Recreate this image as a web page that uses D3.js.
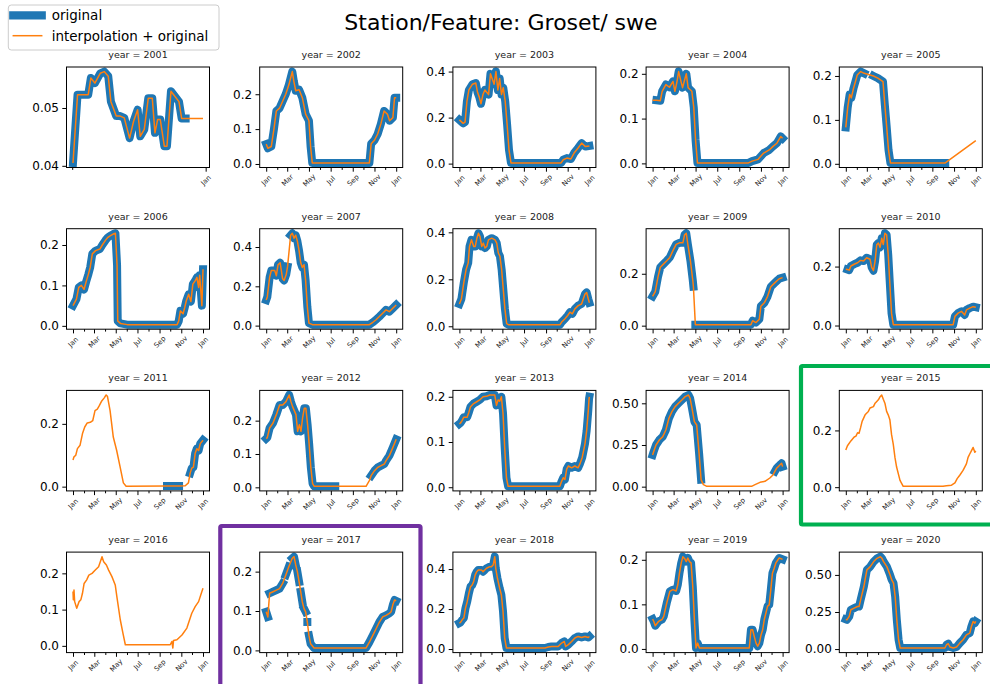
<!DOCTYPE html>
<html>
<head>
<meta charset="utf-8">
<script src="https://cdn.jsdelivr.net/npm/d3@7"></script>
<style>
  body { margin: 0; background: #fff; }
  svg { display: block; font-family: "DejaVu Sans", sans-serif; }
</style>
</head>
<body>
<div class="container"></div>
<script>
// x values are month floats inside the year (0 = Jan 1, 12 = Jan 1 of next year)
const years = [2001, 2002, 2003, 2004, 2005, 2006, 2007, 2008, 2009, 2010,
  2011, 2012, 2013, 2014, 2015, 2016, 2017, 2018, 2019, 2020];

const swe2001 = [[11.006,0.0405],[11.04,0.0523],[11.12,0.0523],[11.14,0.0552],[11.17,0.0543],[11.21,0.056],[11.24,0.0563],[11.27,0.0555],[11.29,0.0511],[11.33,0.0486],[11.36,0.0486],[11.39,0.0483],[11.43,0.0448],[11.46,0.0477],[11.49,0.0497],[11.51,0.0451],[11.54,0.0463],[11.57,0.0517],[11.6,0.0517],[11.62,0.0457],[11.64,0.048],[11.66,0.048],[11.69,0.0434],[11.71,0.0434],[11.74,0.0529],[11.76,0.0523],[11.8,0.0511],[11.82,0.0482],[11.85,0.0482],[11.98,0.0482]];
const swe2002 = [[0,0.057],[0.15,0.045],[0.46,0.05],[0.7,0.1],[0.92,0.152],[1.23,0.16],[1.54,0.18],[1.85,0.2],[2.15,0.227],[2.46,0.265],[2.6,0.237],[2.77,0.21],[3.08,0.213],[3.38,0.19],[3.69,0.143],[4.0,0.124],[4.15,0.05],[4.3,0.003],[9.54,0.003],[9.7,0.058],[10.0,0.068],[10.3,0.086],[10.6,0.115],[10.9,0.152],[11.2,0.143],[11.4,0.124],[11.7,0.133],[11.85,0.19],[12,0.19]];
const swe2003 = [[0,0.19],[0.34,0.175],[0.51,0.18],[0.68,0.27],[0.86,0.32],[1.2,0.345],[1.54,0.35],[1.71,0.31],[1.88,0.29],[2.05,0.26],[2.23,0.3],[2.4,0.32],[2.74,0.3],[2.91,0.39],[3.25,0.345],[3.42,0.4],[3.6,0.32],[3.77,0.37],[3.94,0.3],[4.1,0.33],[4.28,0.27],[4.45,0.17],[4.62,0.06],[4.8,0.003],[9.4,0.003],[9.6,0.017],[9.93,0.024],[10.3,0.02],[10.6,0.046],[10.96,0.067],[11.3,0.089],[11.64,0.074],[12,0.077]];
const swe2004 = [[0,0.141],[0.35,0.141],[0.7,0.14],[0.87,0.161],[1.22,0.176],[1.57,0.17],[1.91,0.183],[2.09,0.161],[2.26,0.18],[2.43,0.205],[2.78,0.169],[3.13,0.2],[3.3,0.169],[3.65,0.161],[3.83,0.125],[4.0,0.052],[4.17,0.001],[8.87,0.001],[9.2,0.005],[9.74,0.009],[10.26,0.023],[10.78,0.03],[11.13,0.038],[11.48,0.045],[11.83,0.06],[12,0.056]];
const swe2005 = [[0,0.083],[0.17,0.128],[0.35,0.158],[0.5,0.15],[0.7,0.172],[0.87,0.187],[1.04,0.202],[1.39,0.21],[1.74,0.206],[2.6,0.2],[3.0,0.195],[3.48,0.187],[3.65,0.135],[3.83,0.083],[4.0,0.031],[4.17,0.002],[9.2,0.002],[12,0.053]];
const swe2006 = [[0,0.05],[0.31,0.066],[0.52,0.095],[0.76,0.1],[1.0,0.09],[1.22,0.11],[1.44,0.128],[1.62,0.145],[1.83,0.178],[2.14,0.186],[2.53,0.19],[2.75,0.2],[3.05,0.212],[3.27,0.219],[3.51,0.223],[3.76,0.227],[3.97,0.229],[4.12,0.15],[4.18,0.012],[4.43,0.006],[5.04,0.003],[9.62,0.003],[9.77,0.012],[9.92,0.037],[10.17,0.03],[10.32,0.045],[10.47,0.062],[10.69,0.078],[10.9,0.06],[11.08,0.103],[11.3,0.112],[11.45,0.12],[11.6,0.095],[11.7,0.125],[11.9,0.05],[12,0.14]];
const swe2007 = [[0,0.13],[0.1,0.146],[0.31,0.246],[0.46,0.28],[0.77,0.28],[0.92,0.254],[1.08,0.31],[1.29,0.32],[1.54,0.238],[1.69,0.23],[1.9,0.26],[2.03,0.3],[2.31,0.46],[2.46,0.47],[2.62,0.445],[2.77,0.46],[2.92,0.43],[3.08,0.38],[3.23,0.32],[3.38,0.296],[3.54,0.31],[3.69,0.23],[3.85,0.096],[4.0,0.013],[4.31,0.005],[9.54,0.005],[9.85,0.017],[10.15,0.03],[10.46,0.046],[10.77,0.063],[11.08,0.08],[11.38,0.071],[11.69,0.088],[12,0.105]];
const swe2008 = [[0,0.095],[0.18,0.116],[0.4,0.186],[0.61,0.242],[0.8,0.27],[0.92,0.34],[1.1,0.368],[1.32,0.34],[1.47,0.34],[1.63,0.375],[1.78,0.396],[1.93,0.382],[2.09,0.34],[2.24,0.354],[2.39,0.333],[2.55,0.34],[2.7,0.368],[3.0,0.375],[3.31,0.368],[3.47,0.354],[3.62,0.312],[3.77,0.298],[3.93,0.242],[4.08,0.158],[4.23,0.074],[4.39,0.011],[4.54,0.007],[9.3,0.007],[9.45,0.018],[9.75,0.032],[10.0,0.046],[10.21,0.06],[10.43,0.053],[10.67,0.074],[10.98,0.088],[11.29,0.095],[11.6,0.137],[11.75,0.144],[11.9,0.116],[12,0.1]];
const swe2009 = [[0,0.113],[0.24,0.131],[0.49,0.188],[0.7,0.225],[1.0,0.238],[1.31,0.25],[1.62,0.263],[1.92,0.288],[2.23,0.313],[2.53,0.319],[2.84,0.319],[2.99,0.35],[3.15,0.356],[3.3,0.313],[3.54,0.25],[3.76,0.175],[3.82,0.15],[4.0,0.004],[9.1,0.004],[9.25,0.019],[9.56,0.012],[9.86,0.025],[10.0,0.075],[10.32,0.088],[10.63,0.113],[10.93,0.15],[11.24,0.163],[11.54,0.175],[11.7,0.181],[12,0.185]];
const swe2010 = [[0,0.191],[0.15,0.19],[0.31,0.188],[0.46,0.202],[0.76,0.208],[1.07,0.213],[1.37,0.221],[1.68,0.219],[1.98,0.23],[2.29,0.225],[2.44,0.197],[2.6,0.186],[2.75,0.219],[2.9,0.274],[3.05,0.28],[3.21,0.265],[3.36,0.296],[3.51,0.275],[3.66,0.313],[3.82,0.308],[3.97,0.241],[4.12,0.141],[4.27,0.042],[4.43,0.003],[9.92,0.003],[10.08,0.031],[10.38,0.042],[10.69,0.048],[10.99,0.036],[11.15,0.053],[11.45,0.059],[11.76,0.064],[12,0.062]];
const swe2011 = [[0,0.085],[0.09,0.095],[0.25,0.1],[0.4,0.121],[0.64,0.132],[0.86,0.169],[1.07,0.19],[1.32,0.203],[1.63,0.205],[1.87,0.21],[2.09,0.242],[2.3,0.247],[2.48,0.258],[2.7,0.273],[2.91,0.282],[3.1,0.292],[3.22,0.288],[3.47,0.242],[3.77,0.158],[4.08,0.116],[4.39,0.064],[4.69,0.012],[4.94,0.001],[8.7,0.002],[9.8,0.002],[10.37,0.003],[10.67,0.012],[10.83,0.043],[10.98,0.059],[11.13,0.062],[11.29,0.106],[11.44,0.121],[11.6,0.115],[11.75,0.137],[12,0.148]];
const swe2012 = [[0,0.146],[0.1,0.149],[0.31,0.178],[0.62,0.193],[0.92,0.218],[1.23,0.247],[1.54,0.247],[1.85,0.257],[2.15,0.277],[2.31,0.257],[2.46,0.242],[2.77,0.218],[2.92,0.168],[3.08,0.188],[3.23,0.168],[3.38,0.208],[3.54,0.237],[3.69,0.237],[3.85,0.188],[4.0,0.129],[4.15,0.06],[4.31,0.011],[4.46,0.003],[6.4,0.003],[9.23,0.003],[9.54,0.021],[9.69,0.035],[10.0,0.05],[10.31,0.06],[10.62,0.065],[10.92,0.07],[11.08,0.08],[11.38,0.095],[11.69,0.119],[12,0.144]];
const swe2013 = [[0,0.14],[0.1,0.142],[0.25,0.148],[0.4,0.155],[0.7,0.155],[0.86,0.166],[1.01,0.178],[1.32,0.185],[1.63,0.189],[1.93,0.193],[2.24,0.2],[2.55,0.201],[2.85,0.204],[3.31,0.204],[3.47,0.181],[3.62,0.193],[3.77,0.19],[3.93,0.2],[4.08,0.163],[4.23,0.088],[4.39,0.021],[4.54,0.002],[9.29,0.002],[9.45,0.013],[9.6,0.021],[9.75,0.017],[9.91,0.04],[10.06,0.047],[10.37,0.043],[10.67,0.047],[10.98,0.043],[11.13,0.051],[11.35,0.066],[11.6,0.096],[11.75,0.125],[11.9,0.17],[11.97,0.196],[12,0.2]];
const swe2014 = [[0,0.19],[0.1,0.211],[0.31,0.25],[0.61,0.28],[0.92,0.3],[1.22,0.34],[1.53,0.41],[1.83,0.45],[2.14,0.48],[2.44,0.5],[2.75,0.52],[3.05,0.54],[3.36,0.55],[3.51,0.53],[3.66,0.48],[3.91,0.39],[4.12,0.37],[4.34,0.2],[4.52,0.042],[4.73,0.012],[5.04,0.002],[9.16,0.002],[9.47,0.012],[9.92,0.026],[10.38,0.032],[10.84,0.052],[11.15,0.072],[11.3,0.092],[11.45,0.11],[11.6,0.12],[11.75,0.13],[11.91,0.14],[12,0.12]];
const swe2015 = [[0,0.131],[0.15,0.146],[0.46,0.163],[0.76,0.177],[0.92,0.18],[1.07,0.192],[1.22,0.19],[1.37,0.209],[1.53,0.232],[1.83,0.255],[2.14,0.267],[2.29,0.279],[2.6,0.284],[2.75,0.296],[3.05,0.308],[3.21,0.319],[3.36,0.325],[3.51,0.31],[3.66,0.296],[3.82,0.267],[3.97,0.255],[4.12,0.238],[4.27,0.186],[4.43,0.151],[4.58,0.105],[4.73,0.071],[5.04,0.024],[5.34,0.003],[9.0,0.003],[9.31,0.005],[9.77,0.007],[10.08,0.015],[10.29,0.03],[10.53,0.042],[10.84,0.059],[11.15,0.082],[11.3,0.105],[11.45,0.117],[11.6,0.128],[11.76,0.14],[11.91,0.123],[12,0.128]];
const swe2016 = [[0,0.15],[0.03,0.127],[0.09,0.154],[0.15,0.122],[0.34,0.104],[0.55,0.122],[0.71,0.127],[0.86,0.145],[1.01,0.172],[1.26,0.182],[1.47,0.195],[1.78,0.2],[2.09,0.209],[2.39,0.218],[2.7,0.246],[2.85,0.232],[3.1,0.223],[3.31,0.209],[3.62,0.191],[3.93,0.168],[4.08,0.136],[4.39,0.072],[4.63,0.035],[4.85,0.003],[8.99,0.003],[9.14,0.012],[9.23,-0.006],[9.29,0.015],[9.6,0.017],[10.06,0.03],[10.52,0.049],[10.98,0.09],[11.29,0.108],[11.6,0.122],[11.9,0.15],[12,0.159]];
const swe2017 = [[0,0.098],[0.15,0.085],[0.31,0.145],[0.62,0.149],[0.92,0.153],[1.23,0.157],[1.54,0.17],[1.85,0.191],[2.15,0.213],[2.46,0.234],[2.62,0.238],[2.77,0.217],[2.92,0.2],[3.08,0.174],[3.23,0.149],[3.38,0.123],[3.54,0.106],[3.69,0.098],[3.85,0.072],[4.0,0.038],[4.15,0.017],[4.46,0.006],[5.1,0.006],[5.4,0.006],[6.5,0.006],[6.8,0.006],[8.0,0.006],[8.3,0.006],[9.23,0.006],[9.54,0.021],[9.85,0.038],[10.15,0.055],[10.46,0.072],[10.77,0.085],[11.08,0.089],[11.38,0.094],[11.54,0.098],[11.69,0.115],[11.85,0.128],[12,0.126]];
const swe2018 = [[0,0.13],[0.1,0.133],[0.25,0.146],[0.4,0.155],[0.55,0.204],[0.71,0.238],[0.86,0.279],[1.01,0.312],[1.17,0.32],[1.32,0.337],[1.47,0.37],[1.63,0.387],[1.78,0.395],[2.09,0.395],[2.24,0.387],[2.39,0.395],[2.55,0.404],[2.85,0.412],[3.0,0.412],[3.16,0.42],[3.31,0.462],[3.4,0.404],[3.56,0.354],[3.77,0.304],[3.93,0.27],[4.08,0.188],[4.23,0.055],[4.39,0.005],[7.91,0.005],[8.22,0.01],[8.53,0.013],[9.14,0.013],[9.45,0.03],[9.69,0.038],[9.82,0.013],[10.06,0.022],[10.37,0.038],[10.67,0.055],[10.98,0.063],[11.29,0.058],[11.6,0.063],[11.9,0.058],[12,0.063]];
const swe2019 = [[0,0.067],[0.1,0.062],[0.24,0.052],[0.55,0.062],[0.85,0.066],[1.01,0.073],[1.31,0.103],[1.62,0.129],[1.92,0.133],[2.23,0.13],[2.38,0.144],[2.53,0.17],[2.69,0.193],[2.84,0.207],[2.99,0.203],[3.15,0.196],[3.3,0.204],[3.45,0.196],[3.6,0.193],[3.76,0.14],[3.91,0.066],[4.06,0.002],[4.21,0.013],[4.37,0.002],[8.95,0.002],[9.1,0.043],[9.25,0.043],[9.4,0.028],[9.56,0.013],[9.71,0.006],[9.86,0.013],[10.02,0.032],[10.17,0.043],[10.32,0.066],[10.63,0.096],[10.78,0.099],[10.93,0.133],[11.08,0.17],[11.24,0.181],[11.39,0.193],[11.69,0.204],[12,0.201]];
const swe2020 = [[0,0.2],[0.1,0.197],[0.31,0.22],[0.46,0.265],[0.76,0.276],[1.07,0.287],[1.22,0.287],[1.37,0.332],[1.68,0.42],[1.83,0.478],[1.98,0.534],[2.29,0.556],[2.6,0.59],[2.9,0.612],[3.21,0.623],[3.36,0.612],[3.51,0.59],[3.82,0.556],[4.12,0.5],[4.27,0.466],[4.43,0.444],[4.58,0.354],[4.73,0.197],[4.89,0.063],[5.04,0.007],[9.16,0.007],[9.31,0.029],[9.47,0.036],[9.62,0.014],[9.92,0.007],[10.23,0.014],[10.53,0.04],[10.84,0.063],[11.15,0.096],[11.45,0.108],[11.6,0.152],[11.76,0.186],[11.91,0.175],[12,0.186]];

const sweData = [swe2001, swe2002, swe2003, swe2004, swe2005, swe2006, swe2007,
  swe2008, swe2009, swe2010, swe2011, swe2012, swe2013, swe2014, swe2015,
  swe2016, swe2017, swe2018, swe2019, swe2020];

// spans (month floats) where the original series has no value
const missing = [
  [[11.85, 12]], [], [], [[0, 0.35]], [[1.74, 2.6], [9.2, 12]],
  [], [[2.05, 2.28]], [], [[3.83, 3.99]], [[0, 0.12]],
  [[0, 8.62], [9.88, 10.8]], [[6.45, 9.65]], [], [[4.55, 11.25]], [[0, 12]],
  [[0, 12]], [[0.17, 0.28], [1.6, 1.8], [2.3, 2.4], [2.85, 2.9], [3.1, 3.2], [3.4, 3.5], [3.7, 3.8], [3.9, 3.95], [5.2, 5.3], [6.6, 6.7], [8.1, 8.2]],
  [], [], []
];

const yTicks = [
  [0.04, 0.05], [0, 0.1, 0.2], [0, 0.2, 0.4], [0, 0.1, 0.2], [0, 0.1, 0.2],
  [0, 0.1, 0.2], [0, 0.2, 0.4], [0, 0.2, 0.4], [0, 0.2], [0, 0.2],
  [0, 0.2], [0, 0.1, 0.2], [0, 0.1, 0.2], [0, 0.25, 0.5], [0, 0.2],
  [0, 0.1, 0.2], [0, 0.1, 0.2], [0, 0.2, 0.4], [0, 0.1, 0.2], [0, 0.25, 0.5]
];

const blue = "#1f77b4";
const orange = "#ff7f0e";

const grid = { left: 66.5, top: 67, colStep: 193.2, rowStep: 161.7, w: 143, h: 100.5 };

const toDate = (year, m) => {
  const mi = Math.floor(m);
  const a = Date.UTC(year, mi, 1);
  const b = Date.UTC(year, mi + 1, 1);
  return new Date(a + (m - mi) * (b - a));
};

// decimals needed so that every tick label shows the same precision
const tickDigits = (ticks) =>
  d3.max(ticks, (t) => {
    const s = String(+t.toFixed(6));
    return s.includes(".") ? s.split(".")[1].length : 0;
  });

// original series: drop missing values and break the line at gaps
const originalOf = (data, gaps) => {
  const firstM = data[0][0];
  const lastM = data[data.length - 1][0];
  const isMissing = (m) =>
    gaps.some(([a, b]) => (a < m && m < b) || (m === a && a === firstM) || (m === b && b === lastM));
  const out = [];
  data.forEach((d, k) => {
    if (k > 0) {
      const p = data[k - 1][0];
      if (gaps.some(([a, b]) => a >= p && b <= d[0] && !(a === p && b === d[0] && false))) out.push(null);
    }
    out.push(isMissing(d[0]) ? null : d);
  });
  return out;
};

const svg = d3
  .select(".container")
  .append("svg")
  .attr("width", 990)
  .attr("height", 684);

const defs = svg.append("defs");

// Title
svg
  .append("text")
  .attr("x", 501)
  .attr("y", 30)
  .attr("text-anchor", "middle")
  .attr("font-size", 22)
  .text("Station/Feature: Groset/ swe");

const monthFmt = d3.utcFormat("%b");

years.forEach((year, i) => {
  const data = sweData[i];
  const col = i % 5;
  const row = Math.floor(i / 5);
  const w = grid.w;
  const h = grid.h;

  const g = svg
    .append("g")
    .attr("transform", "translate(" + (grid.left + col * grid.colStep) + "," + (grid.top + row * grid.rowStep) + ")");

  // scales with 5% margins like matplotlib autoscale
  const dates = data.map((d) => toDate(year, d[0]));
  const [d0, d1] = d3.extent(dates);
  const xPad = (d1 - d0) * 0.05;
  const xScale = d3.scaleUtc().domain([new Date(+d0 - xPad), new Date(+d1 + xPad)]).range([0, w]);

  const [v0, v1] = d3.extent(data, (d) => d[1]);
  const yPad = (v1 - v0) * 0.05;
  const yScale = d3.scaleLinear().domain([v0 - yPad, v1 + yPad]).range([h, 0]);

  defs.append("clipPath").attr("id", "ax" + year)
    .append("rect").attr("width", w).attr("height", h);

  const line = d3.line()
    .defined((d) => d !== null)
    .x((d) => xScale(toDate(year, d[0])))
    .y((d) => yScale(d[1]));

  const plot = g.append("g").attr("clip-path", "url(#ax" + year + ")");

  // original (thick blue)
  plot.append("path")
    .attr("d", line(originalOf(data, missing[i])))
    .attr("fill", "none")
    .attr("stroke", blue)
    .attr("stroke-width", 8)
    .attr("stroke-linejoin", "round")
    .attr("stroke-linecap", "square");

  // interpolation + original (thin orange)
  plot.append("path")
    .attr("d", line(data))
    .attr("fill", "none")
    .attr("stroke", orange)
    .attr("stroke-width", 1.5)
    .attr("stroke-linejoin", "round");

  // x axis: major ticks every 2 months, minor every month
  const major = xScale.ticks(d3.utcMonth.every(2));
  const minor = xScale.ticks(d3.utcMonth.every(1)).filter((d) => d.getUTCMonth() % 2 === 1);

  const xMinor = g.append("g")
    .attr("transform", "translate(0," + h + ")")
    .call(d3.axisBottom(xScale).tickValues(minor).tickSize(2.4).tickFormat(""));
  xMinor.select(".domain").remove();

  const xMajor = g.append("g")
    .attr("transform", "translate(0," + h + ")")
    .call(d3.axisBottom(xScale).tickValues(major).tickSize(4.2).tickFormat(monthFmt));
  xMajor.select(".domain").remove();
  xMajor.selectAll("text")
    .attr("y", 0)
    .attr("dy", null)
    .attr("font-size", 7)
    .attr("font-family", "DejaVu Sans")
    .attr("fill", "#222")
    .attr("text-anchor", "middle")
    .attr("dominant-baseline", "central")
    .attr("transform", "translate(0,13) rotate(-45)");

  // y axis
  const ticks = yTicks[i];
  const yAxis = g.append("g")
    .call(d3.axisLeft(yScale).tickValues(ticks).tickSize(4.2).tickPadding(3.3).tickFormat(d3.format("." + tickDigits(ticks) + "f")));
  yAxis.select(".domain").remove();
  yAxis.selectAll("text")
    .attr("font-size", 12)
    .attr("font-family", "DejaVu Sans")
    .attr("fill", "#000");

  // axes frame
  g.append("rect")
    .attr("width", w)
    .attr("height", h)
    .attr("fill", "none")
    .attr("stroke", "#000")
    .attr("stroke-width", 1);

  // panel title
  g.append("text")
    .attr("x", w / 2)
    .attr("y", -9)
    .attr("text-anchor", "middle")
    .attr("font-size", 9.5)
    .attr("fill", "#222")
    .text("year = " + year);
});

// Legend
const legend = svg.append("g");
legend.append("rect")
  .attr("x", 8.3)
  .attr("y", 5)
  .attr("width", 210.7)
  .attr("height", 45)
  .attr("rx", 3)
  .attr("fill", "#fff")
  .attr("fill-opacity", 0.8)
  .attr("stroke", "#ccc");
legend.append("line")
  .attr("x1", 13.3).attr("x2", 41.7).attr("y1", 15.3).attr("y2", 15.3)
  .attr("stroke", blue).attr("stroke-width", 8.3).attr("stroke-linecap", "square");
legend.append("line")
  .attr("x1", 13.3).attr("x2", 41.7).attr("y1", 35.7).attr("y2", 35.7)
  .attr("stroke", orange).attr("stroke-width", 1.5).attr("stroke-linecap", "square");
legend.append("text").attr("x", 51.7).attr("y", 19.8).attr("font-size", 13.5).text("original");
legend.append("text").attr("x", 51.7).attr("y", 40.6).attr("font-size", 13.5).text("interpolation + original");

// Highlight frames
svg.append("rect")
  .attr("x", 801).attr("y", 366).attr("width", 200).attr("height", 158.5)
  .attr("fill", "none").attr("stroke", "#00b050").attr("stroke-width", 4.2).attr("rx", 1.5);
svg.append("rect")
  .attr("x", 220.3).attr("y", 526).attr("width", 200.2).attr("height", 170)
  .attr("fill", "none").attr("stroke", "#7030a0").attr("stroke-width", 4.2).attr("rx", 1.5);
</script>
</body>
</html>
